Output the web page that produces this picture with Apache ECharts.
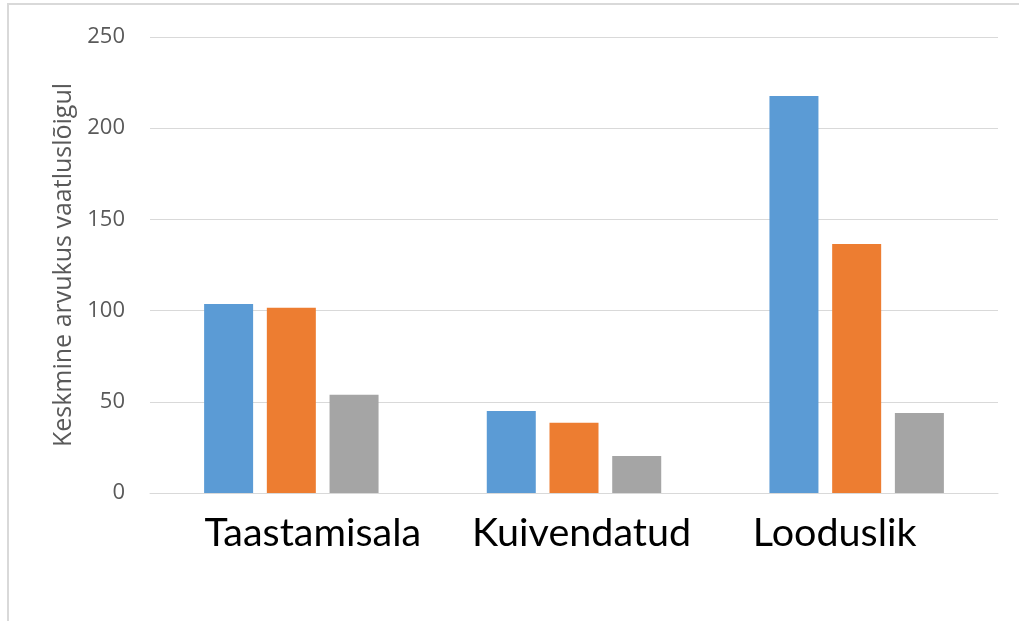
<!DOCTYPE html>
<html>
<head>
<meta charset="utf-8">
<script src="https://cdn.jsdelivr.net/npm/echarts@6/dist/echarts.min.js"></script>
<style>
html,body{margin:0;padding:0;background:#fff;}
#frame{position:absolute;left:7px;top:3px;width:1030px;height:616px;border-left:2px solid #d9d9d9;border-top:2px solid #d9d9d9;}
#chart{position:absolute;left:0;top:0;width:1019px;height:623px;}
</style>
</head>
<body>
<div id="frame"></div>
<div id="chart"></div>
<script>
const categories = ['Taastamisala', 'Kuivendatud', 'Looduslik'];
const seriesA = [103.6, 45, 217.7];
const seriesB = [101.5, 38.5, 136.5];
const seriesC = [53.8, 20.3, 43.8];
const yAxisName = 'Keskmine arvukus vaatluslõigul';

const chart = echarts.init(document.getElementById('chart'));
const colors = ['#5b9bd5', '#ed7d31', '#a5a5a5'];
const labelStyle = { color: '#000', fontSize: 39.5, fontFamily: 'Lato' };
const mk = (data, i) => ({
  type: 'bar', data: data, barWidth: 49, barGap: '28%',
  itemStyle: { color: colors[i] }
});
chart.setOption({
  animation: false,
  grid: { left: 150, right: 21, top: 37, bottom: 130 },
  xAxis: {
    type: 'category', data: categories,
    axisLine: { lineStyle: { color: '#d9d9d9', width: 1 } },
    axisTick: { show: false },
    axisLabel: {
      margin: 20,
      formatter: (v, idx) => '{c' + idx + '|' + v + '}',
      rich: {
        c0: Object.assign({ padding: [0, 0, 0, 43] }, labelStyle),
        c1: Object.assign({ padding: [0, 0, 0, 15] }, labelStyle),
        c2: Object.assign({ padding: [0, 44, 0, 0] }, labelStyle)
      }
    }
  },
  yAxis: {
    type: 'value', min: 0, max: 250, interval: 50,
    name: yAxisName, nameLocation: 'middle', nameGap: 71,
    nameTextStyle: { color: '#595959', fontSize: 25, fontFamily: 'Open Sans' },
    axisLine: { show: false }, axisTick: { show: false },
    axisLabel: { color: '#595959', fontSize: 22, fontFamily: 'Open Sans', margin: 25 },
    splitLine: { lineStyle: { color: '#d9d9d9', width: 1 } }
  },
  series: [mk(seriesA, 0), mk(seriesB, 1), mk(seriesC, 2)]
});
</script>
</body>
</html>
